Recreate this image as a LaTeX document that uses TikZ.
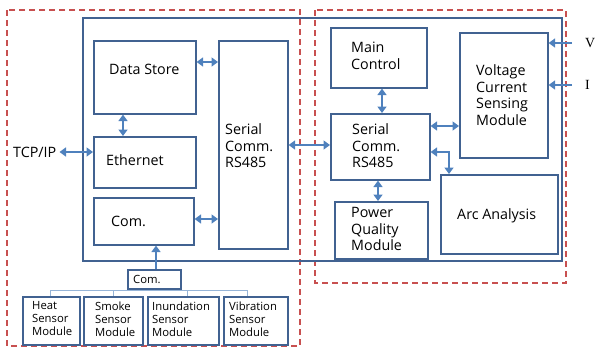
\documentclass[tikz,border=0pt]{standalone}
\usepackage{fontspec}
\setmainfont{Open Sans}
\newfontfamily\serifvi{Liberation Serif}
\usetikzlibrary{arrows.meta,positioning}
\definecolor{boxblue}{RGB}{65,98,145}
\definecolor{arrblue}{RGB}{79,129,189}
\definecolor{treeblue}{RGB}{150,180,215}
\definecolor{dashred}{RGB}{200,80,80}
\tikzset{
  box/.style={draw=boxblue, line width=1.6pt, inner sep=0pt, anchor=north west},
  txt/.style={anchor=west, inner sep=0pt, align=left, font=\fontsize{14.3}{16.6}\selectfont},
  smalltxt/.style={anchor=west, inner sep=0pt, align=left, font=\fontsize{11.3}{13}\selectfont},
  dbl/.style={{Triangle[length=6.5pt,width=9pt]}-{Triangle[length=6.5pt,width=9pt]}, line width=2.8pt, draw=arrblue},
  sgl/.style={-{Triangle[length=6.5pt,width=9pt]}, line width=2.8pt, draw=arrblue},
  region/.style={draw=dashred, line width=1.4pt, dash pattern=on 6pt off 4pt},
  tree/.style={draw=treeblue, line width=1pt}
}
\newcommand{\mybox}[5]{\node[box, minimum width=#4-#2, minimum height=#5-#3] (#1) at (#2,#3) {};}
\begin{document}
\begin{tikzpicture}[x=1pt,y=-1pt]
\useasboundingbox (0,0) rectangle (595,349);
% dashed regions
\draw[region] (7,10) rectangle (300,346);
\draw[region] (315,10) rectangle (566,283);
% outer box
\draw[draw=boxblue, line width=1.6pt] (83,18) rectangle (562,261);
% left side boxes
\mybox{ds}{93}{40}{195}{113}
\mybox{eth}{93}{136}{195}{187}
\mybox{com}{93}{197}{193}{244}
\mybox{serL}{218}{40}{287}{248}
\mybox{scom}{127}{269}{180}{288}
\mybox{heat}{22}{296}{79}{344}
\mybox{smoke}{83}{296}{142}{344}
\mybox{inun}{147}{296}{218}{344}
\mybox{vib}{223}{296}{287}{344}
% right side boxes
\mybox{main}{330}{27}{426}{87}
\mybox{serR}{330}{113}{429}{179}
\mybox{vcs}{459}{32}{547}{157}
\mybox{arc}{440}{174}{557}{253}
\mybox{pq}{334}{201}{427}{258}
% texts
\node[txt] (dsT) at (109,69) {Data Store};
\node[txt] (ethT) at (106,160) {Ethernet};
\node[txt] (comT) at (111,221) {Com.};
\node[txt] (serLT) at (225,146) {Serial\\Comm.\\RS485};
\node[txt] (tcpT) at (13,152) {TCP/IP};
\node[smalltxt] (scomT) at (133,279) {Com.};
\node[smalltxt] (heatT) at (32,319) {Heat\\Sensor\\Module};
\node[smalltxt] (smokeT) at (95,319) {Smoke\\Sensor\\Module};
\node[smalltxt] (inunT) at (152,319) {Inundation\\Sensor\\Module};
\node[smalltxt] (vibT) at (229,319) {Vibration\\Sensor\\Module};
\node[txt] (mainT) at (351,56) {Main\\Control};
\node[txt] (serRT) at (352,146) {Serial\\Comm.\\RS485};
\node[txt] (vcsT) at (476,95) {Voltage\\Current\\Sensing\\Module};
\node[txt] (arcT) at (457,216) {Arc Analysis};
\node[txt] (pqT) at (351,229) {Power\\Quality\\Module};
\node[anchor=west, inner sep=0pt, font=\serifvi\fontsize{14}{16}\selectfont] (vT) at (585,43) {V};
\node[anchor=west, inner sep=0pt, font=\serifvi\fontsize{14}{16}\selectfont] (iT) at (585,85) {I};
\coordinate (vS) at (572,43);
\coordinate (iS) at (572,85);
% arrows
\draw[dbl] (ds.east |- 0,62) -- (serL.west |- 0,62);
\draw[dbl] (ds.south -| 123,0) -- (eth.north -| 123,0);
\draw[dbl] (tcpT.east) ++(3,0) coordinate (tcpE) (tcpE) -- (eth.west |- tcpE);
\draw[dbl] (com.east |- 0,219) -- (serL.west |- 0,219);
\draw[sgl] (scom.north -| 156,0) -- (com.south -| 156,0);
\draw[dbl] (serL.east |- 0,145) -- (serR.west |- 0,145);
\draw[dbl] (main.south -| 382,0) -- (serR.north -| 382,0);
\draw[dbl] (serR.east |- 0,126) -- (vcs.west |- 0,126);
\draw[dbl] (serR.east |- 0,152) -- (449,152) -- (arc.north -| 449,0);
\draw[dbl] (serR.south -| 378,0) -- (pq.north -| 378,0);
\draw[sgl] (vS) -- (vcs.east |- vS);
\draw[sgl] (iS) -- (vcs.east |- iS);
% tree
\draw[tree] (heat.north -| 50,0) -- (50,290) -- (247,290) -- (vib.north -| 247,0);
\draw[tree] (113,290) -- (smoke.north -| 113,0);
\draw[tree] (187,290) -- (inun.north -| 187,0);
\draw[tree] (scom.south) -- (scom.south |- 0,290);
\end{tikzpicture}
\end{document}
